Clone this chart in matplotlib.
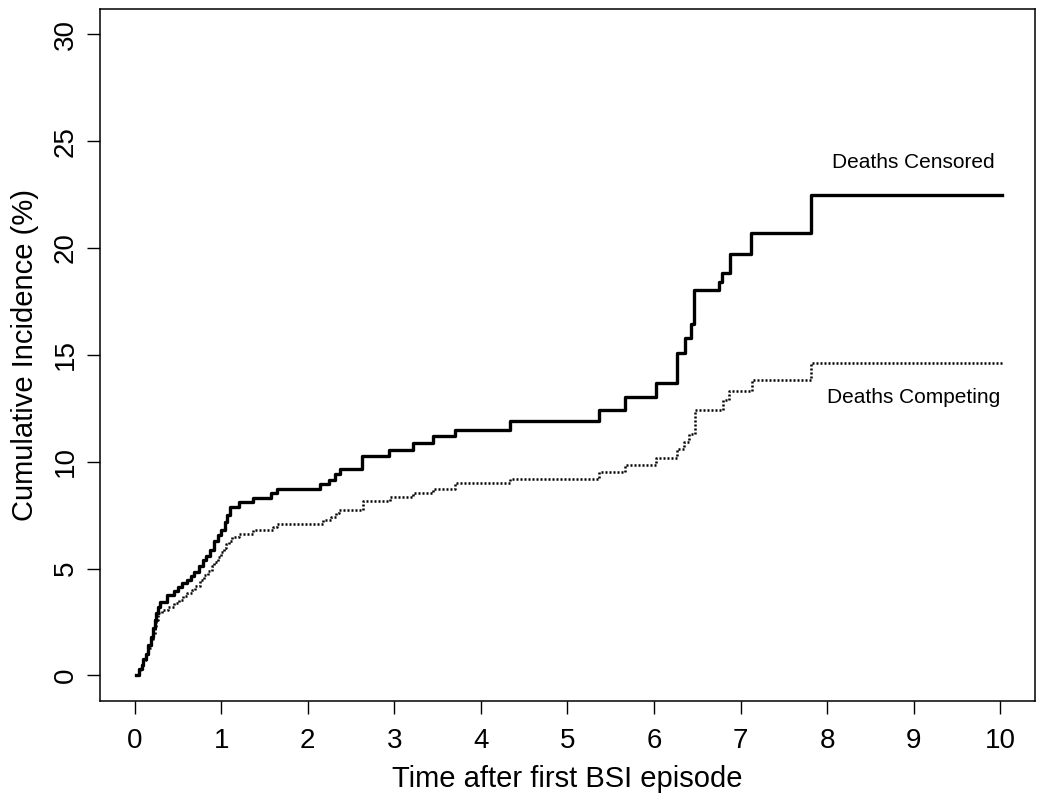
import matplotlib
matplotlib.use('Agg')
import matplotlib.pyplot as plt

# cumulative incidence (%), step points (time, value)
censored_t = [0.02, 0.05, 0.08, 0.10, 0.13, 0.16, 0.19, 0.21, 0.23, 0.25,
              0.27, 0.29, 0.37, 0.46, 0.50, 0.55, 0.60, 0.65, 0.69, 0.74,
              0.79, 0.83, 0.87, 0.92, 0.96, 1.00, 1.04, 1.07, 1.10, 1.21,
              1.37, 1.58, 1.64, 2.14, 2.25, 2.31, 2.37, 2.63, 2.94, 3.21,
              3.45, 3.70, 4.34, 5.36, 5.67, 6.02, 6.27, 6.36, 6.43, 6.46,
              6.75, 6.79, 6.88, 7.12, 7.81, 10.02]
censored_v = [0, 0.3, 0.5, 0.75, 1.0, 1.4, 1.8, 2.2, 2.6, 2.9,
              3.2, 3.45, 3.75, 3.95, 4.15, 4.3, 4.45, 4.65, 4.85, 5.1,
              5.4, 5.6, 5.85, 6.3, 6.55, 6.8, 7.2, 7.5, 7.9, 8.12,
              8.3, 8.53, 8.72, 8.94, 9.16, 9.44, 9.68, 10.25, 10.53, 10.86,
              11.18, 11.5, 11.9, 12.44, 13.02, 13.68, 15.08, 15.8, 16.46, 18.02,
              18.4, 18.83, 19.7, 20.72, 22.5, 22.5]

competing_t = [0.02, 0.05, 0.08, 0.10, 0.13, 0.16, 0.19, 0.21, 0.23, 0.25,
               0.27, 0.32, 0.39, 0.46, 0.51, 0.56, 0.61, 0.66, 0.70, 0.75,
               0.80, 0.85, 0.89, 0.92, 0.96, 1.00, 1.03, 1.06, 1.09, 1.12,
               1.21, 1.37, 1.60, 1.64, 2.18, 2.27, 2.33, 2.36, 2.64, 2.95,
               3.22, 3.45, 3.70, 4.34, 5.36, 5.67, 6.02, 6.27, 6.35, 6.40,
               6.47, 6.80, 6.87, 7.13, 7.81, 10.02]
competing_v = [0, 0.25, 0.45, 0.7, 0.95, 1.3, 1.6, 1.95, 2.3, 2.6,
               2.9, 3.05, 3.2, 3.4, 3.55, 3.7, 3.85, 4.0, 4.2, 4.45,
               4.7, 4.9, 5.1, 5.3, 5.55, 5.77, 5.95, 6.15, 6.3, 6.47,
               6.63, 6.78, 6.94, 7.1, 7.25, 7.4, 7.58, 7.75, 8.14, 8.34,
               8.53, 8.73, 8.98, 9.2, 9.5, 9.83, 10.17, 10.6, 10.92, 11.31,
               12.44, 12.87, 13.32, 13.82, 14.62, 14.62]

x_ticks = list(range(0, 11))
y_ticks = [0, 5, 10, 15, 20, 25, 30]

plt.rcParams['font.family'] = ['Liberation Sans', 'DejaVu Sans']

fig = plt.figure(figsize=(10.5, 8.01), dpi=100)
ax = fig.add_axes([0.0952, 0.1248, 0.8905, 0.8645])

ax.step(censored_t, censored_v, where='post', color='black', linewidth=2.4)
ax.step(competing_t, competing_v, where='post', color='black', linewidth=1.8,
        linestyle=(0, (0.8, 0.8)))

ax.text(9.0, 24.0, 'Deaths Censored', fontsize=15, ha='center', va='center')
ax.text(9.0, 13.0, 'Deaths Competing', fontsize=15, ha='center', va='center')

ax.set_xlim(-0.4, 10.4)
ax.set_ylim(-1.2, 31.2)
ax.set_xticks(x_ticks)
ax.set_yticks(y_ticks)
ax.tick_params(direction='out', length=9.5, width=1, labelsize=20)
ax.tick_params(axis='x', pad=10)
ax.tick_params(axis='y', pad=6)
for lab in ax.get_yticklabels():
    lab.set_rotation(90)
    lab.set_va('center')

for s in ax.spines.values():
    s.set_linewidth(1.1)

ax.set_xlabel('Time after first BSI episode', fontsize=21)
ax.set_ylabel('Cumulative Incidence (%)', fontsize=21)
# place axis titles where they sit in the original
ax.xaxis.set_label_coords(0.5, -0.113)
ax.xaxis.label.set_va('center')
ax.yaxis.set_label_coords(-0.080, 0.5)
ax.yaxis.label.set_va('center')

fig.savefig('out.png', dpi=100)
